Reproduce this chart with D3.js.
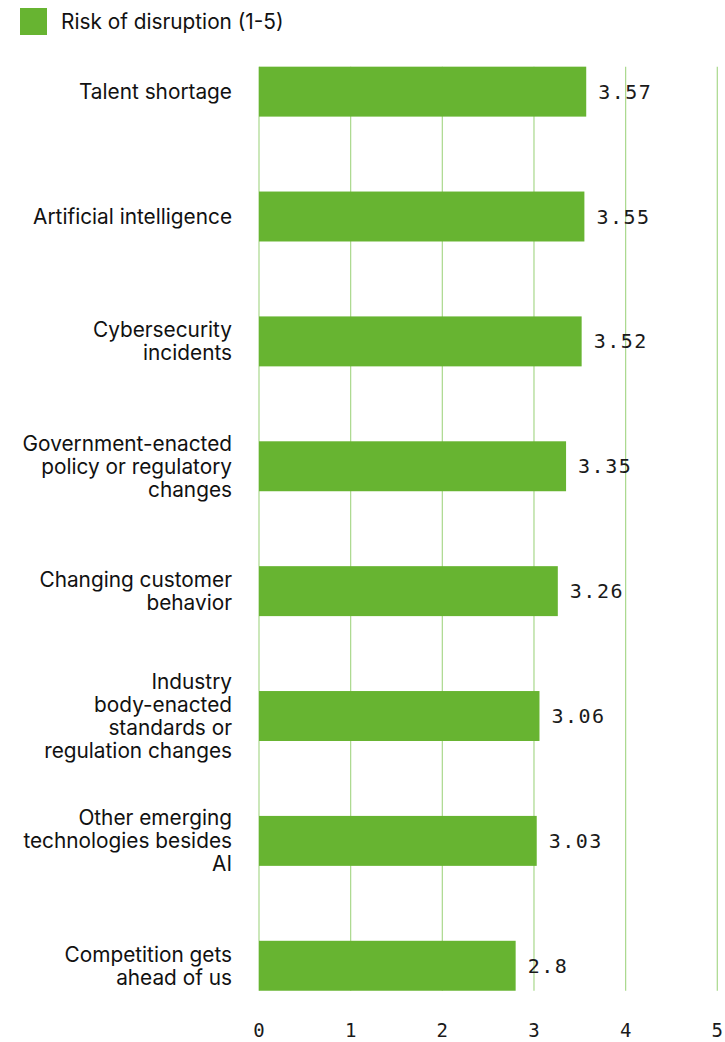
<!DOCTYPE html>
<html>
<head>
<meta charset="utf-8">
<script src="https://cdn.jsdelivr.net/npm/d3@7"></script>
<style>
  html, body { margin: 0; padding: 0; background: #fff; }
  svg { display: block; }
</style>
</head>
<body>
<div id="chart"></div>
<script>
// Risk categories (line breaks mark how each label wraps)
const categories = [
  "Talent shortage",
  "Artificial intelligence",
  "Cybersecurity\nincidents",
  "Government-enacted\npolicy or regulatory\nchanges",
  "Changing customer\nbehavior",
  "Industry\nbody-enacted\nstandards or\nregulation changes",
  "Other emerging\ntechnologies besides\nAI",
  "Competition gets\nahead of us"
];
const values = [3.57, 3.55, 3.52, 3.35, 3.26, 3.06, 3.03, 2.8];
const valueLabels = ["3.57", "3.55", "3.52", "3.35", "3.26", "3.06", "3.03", "2.8"];
const xTicks = [0, 1, 2, 3, 4, 5];
const seriesName = "Risk of disruption (1-5)";

const W = 725, H = 1042;
const barColor = "#67b431";
const gridColor = "#a9d88c";
const sansFont = "Inter, 'Noto Sans', sans-serif";
const monoFont = "'DejaVu Sans Mono', monospace";

const svg = d3.select("#chart").append("svg")
  .attr("width", W).attr("height", H);

const x = d3.scaleLinear().domain([0, 5]).range([259, 717.3]);
const y = d3.scaleBand().domain(categories).range([29.2, 1028.2])
  .paddingInner(0.6).paddingOuter(0.3);

const gridTop = y(categories[0]);
const gridBottom = y(categories[categories.length - 1]) + y.bandwidth();

// vertical gridlines
svg.append("g").selectAll("line").data(xTicks).join("line")
  .attr("x1", d => x(d)).attr("x2", d => x(d))
  .attr("y1", gridTop).attr("y2", gridBottom)
  .attr("stroke", gridColor).attr("stroke-width", 1.2);

// bars
svg.append("g").selectAll("rect").data(categories).join("rect")
  .attr("x", x(0))
  .attr("y", d => y(d))
  .attr("width", (d, i) => x(values[i]) - x(0))
  .attr("height", y.bandwidth())
  .attr("fill", barColor);

// value labels
svg.append("g").selectAll("text").data(categories).join("text")
  .attr("x", (d, i) => x(values[i]) + 12)
  .attr("y", d => y(d) + y.bandwidth() / 2)
  .attr("dy", "0.35em")
  .attr("font-family", monoFont)
  .attr("font-size", 20)
  .attr("letter-spacing", "1.5px")
  .attr("fill", "#1a1a1a")
  .text((d, i) => valueLabels[i]);

// category labels
const lineH = 23;
const catG = svg.append("g");
categories.forEach(c => {
  const lines = c.split("\n");
  const cy = y(c) + y.bandwidth() / 2;
  const t = catG.append("text")
    .attr("text-anchor", "end")
    .attr("font-family", sansFont)
    .attr("font-size", 20.8)
    .attr("fill", "#111");
  lines.forEach((ln, k) => {
    t.append("tspan")
      .attr("x", 232)
      .attr("y", cy + (k - (lines.length - 1) / 2) * lineH)
      .attr("dy", "0.35em")
      .text(ln);
  });
});

// x axis tick labels
svg.append("g").selectAll("text").data(xTicks).join("text")
  .attr("x", d => x(d))
  .attr("y", 1030)
  .attr("dy", "0.35em")
  .attr("text-anchor", "middle")
  .attr("font-family", monoFont)
  .attr("font-size", 19)
  .attr("fill", "#1a1a1a")
  .text(d => d);

// legend
const lg = svg.append("g");
lg.append("rect").attr("x", 20).attr("y", 8).attr("width", 27).attr("height", 27)
  .attr("fill", barColor);
lg.append("text").attr("x", 61).attr("y", 21.5).attr("dy", "0.35em")
  .attr("font-family", sansFont).attr("font-size", 20.8).attr("fill", "#111")
  .text(seriesName);
</script>
</body>
</html>
